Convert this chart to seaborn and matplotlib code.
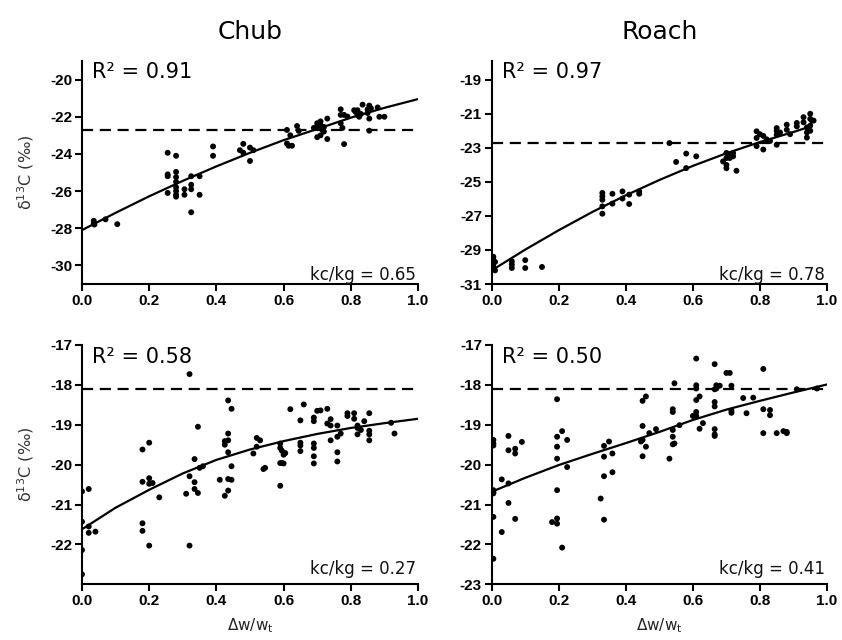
import numpy as np
import pandas as pd
import matplotlib
matplotlib.use("Agg")
import matplotlib.pyplot as plt
import seaborn as sns

# ---------------- data ----------------
species = ["Chub", "Roach"]
r2_labels = ["0.91", "0.97", "0.58", "0.50"]
kc_labels = ["0.65", "0.78", "0.27", "0.41"]
baselines = [-22.7, -22.7, -18.1, -18.1]

# top-left (Chub, upper)
tl_x = [0.035, 0.035, 0.037, 0.07, 0.105,
        0.255, 0.255, 0.255, 0.255,
        0.28, 0.28, 0.28, 0.28, 0.28, 0.28, 0.28, 0.28,
        0.305, 0.305, 0.325, 0.325, 0.325, 0.325, 0.35, 0.35,
        0.39, 0.39, 0.47, 0.48, 0.48, 0.50, 0.50, 0.51,
        0.61, 0.61, 0.615, 0.62, 0.625, 0.64, 0.645,
        0.69, 0.70, 0.70, 0.705, 0.71, 0.71, 0.715, 0.72, 0.72, 0.70, 0.71, 0.73, 0.73,
        0.77, 0.77, 0.77, 0.775, 0.78, 0.78, 0.79,
        0.81, 0.815, 0.82, 0.82, 0.825, 0.83, 0.835,
        0.85, 0.85, 0.855, 0.855, 0.855, 0.86, 0.88, 0.885, 0.90]
tl_y = [-27.6, -27.72, -27.8, -27.52, -27.78,
        -23.94, -25.1, -25.2, -26.1,
        -24.1, -24.97, -25.25, -25.5, -25.8, -26.0, -26.2, -26.3,
        -25.9, -26.2, -25.2, -25.66, -25.9, -27.14, -25.2, -26.2,
        -23.6, -24.1, -23.8, -23.46, -23.94, -23.66, -24.38, -23.8,
        -22.71, -23.44, -23.56, -23.0, -23.56, -22.5, -22.76,
        -22.6, -22.35, -22.5, -22.6, -22.25, -22.45, -22.7, -22.55, -22.8, -23.1, -23.0, -22.1, -23.2,
        -21.6, -21.9, -22.35, -22.6, -21.9, -23.47, -21.99,
        -21.65, -21.75, -21.65, -21.9, -22.0, -21.85, -21.35,
        -21.6, -21.8, -21.4, -22.1, -22.75, -21.55, -21.5, -22.0, -22.0]
tl_fit_x = [0.0, 0.1, 0.2, 0.3, 0.4, 0.5, 0.6, 0.7, 0.8, 0.9, 1.0]
tl_fit_y = [-28.1, -27.17, -26.28, -25.45, -24.67, -23.94, -23.26, -22.66, -22.05, -21.52, -21.05]

# top-right (Roach, upper)
tr_x = [0.005, 0.005, 0.005, 0.005, 0.01, 0.01,
        0.06, 0.06, 0.06, 0.10, 0.10, 0.15,
        0.33, 0.33, 0.33, 0.33, 0.33, 0.36, 0.36, 0.39, 0.39, 0.41, 0.41, 0.44, 0.44,
        0.53, 0.55, 0.58, 0.58, 0.61,
        0.69, 0.70, 0.70, 0.70, 0.70, 0.71, 0.71, 0.72, 0.72, 0.73,
        0.79, 0.79, 0.79, 0.80, 0.81, 0.81, 0.82, 0.83,
        0.85, 0.85, 0.85, 0.85, 0.86, 0.88, 0.88, 0.89, 0.91, 0.91,
        0.93, 0.93, 0.94, 0.94, 0.94, 0.95, 0.95, 0.955, 0.95, 0.95, 0.96]
tr_y = [-29.4, -29.6, -29.8, -30.0, -30.2, -29.7,
        -29.67, -29.86, -30.06, -29.6, -30.06, -30.0,
        -25.65, -25.85, -26.05, -26.44, -26.87, -25.7, -26.28, -25.56, -25.98, -25.75, -26.3, -25.56, -25.7,
        -22.72, -23.83, -23.34, -24.19, -23.5,
        -23.8, -23.3, -23.6, -24.0, -24.2, -23.4, -23.6, -23.5, -23.3, -24.35,
        -22.03, -22.42, -22.9, -22.2, -22.3, -23.1, -22.5, -22.6,
        -21.84, -22.23, -22.82, -22.0, -22.1, -21.64, -21.94, -22.2, -21.54, -21.74,
        -21.2, -21.5, -21.8, -22.1, -22.4, -21.0, -21.3, -21.4, -21.7, -22.0, -21.4]
tr_fit_x = [0.0, 0.1, 0.2, 0.3, 0.4, 0.5, 0.6, 0.7, 0.8, 0.9, 0.95]
tr_fit_y = [-30.2, -28.98, -27.84, -26.77, -25.79, -24.89, -24.06, -23.32, -22.66, -22.07, -21.75]

# bottom-left (Chub, lower)
bl_x = [0.0, 0.0, 0.0, 0.0, 0.02, 0.02, 0.02, 0.04,
        0.18, 0.18, 0.18, 0.18, 0.20, 0.20, 0.20, 0.20, 0.21, 0.23,
        0.31, 0.32, 0.32, 0.32, 0.335, 0.335, 0.335, 0.345, 0.345, 0.35, 0.36,
        0.41, 0.425, 0.425, 0.425, 0.435, 0.435, 0.435, 0.435, 0.435, 0.435, 0.445, 0.445, 0.445,
        0.51, 0.52, 0.52, 0.53, 0.54, 0.545,
        0.59, 0.59, 0.59, 0.59, 0.595, 0.595, 0.60, 0.60, 0.605, 0.62,
        0.65, 0.65, 0.65, 0.65, 0.66,
        0.69, 0.69, 0.69, 0.69, 0.69, 0.69, 0.70, 0.71, 0.73, 0.73, 0.74, 0.74, 0.74,
        0.76, 0.76, 0.76, 0.76, 0.77, 0.79, 0.79, 0.81, 0.81, 0.82, 0.82, 0.82, 0.83, 0.84,
        0.855, 0.855, 0.855, 0.855, 0.92, 0.93]
bl_y = [-20.67, -21.43, -22.14, -22.75, -20.61, -21.55, -21.71, -21.68,
        -19.62, -20.43, -21.47, -21.66, -19.45, -20.34, -20.48, -22.03, -20.46, -20.82,
        -20.73, -17.73, -20.29, -22.03, -19.86, -20.44, -20.61, -19.05, -20.71, -20.08, -20.04,
        -20.38, -19.41, -19.5, -20.78, -18.39, -19.22, -19.39, -19.69, -20.36, -20.65, -18.6, -20.04, -20.38,
        -19.72, -19.33, -19.55, -19.39, -20.11, -20.08,
        -19.47, -19.58, -19.96, -20.53, -19.65, -19.96, -19.75, -19.97, -19.71, -18.61,
        -18.89, -19.45, -19.52, -19.66, -18.49,
        -18.82, -18.91, -19.47, -19.58, -19.79, -19.97, -18.65, -18.64, -18.6, -18.97, -19.02, -19.39, -18.86,
        -19.02, -19.3, -19.69, -19.92, -19.22, -18.71, -18.78, -18.71, -18.85, -19.02, -19.08, -19.24, -19.13, -18.91,
        -18.71, -19.15, -19.24, -19.39, -18.95, -19.22]
bl_fit_x = [0.0, 0.1, 0.2, 0.3, 0.4, 0.5, 0.6, 0.7, 0.8, 0.9, 1.0]
bl_fit_y = [-21.62, -21.08, -20.63, -20.22, -19.88, -19.62, -19.41, -19.23, -19.08, -18.96, -18.85]

# bottom-right (Roach, lower)
br_x = [0.005, 0.005, 0.005, 0.005, 0.005, 0.005, 0.005, 0.005,
        0.03, 0.03, 0.05, 0.05, 0.05, 0.05, 0.07, 0.07, 0.07, 0.09,
        0.18, 0.195, 0.195, 0.195, 0.195, 0.195, 0.195, 0.195, 0.21, 0.21, 0.225, 0.225,
        0.325, 0.335, 0.335, 0.335, 0.335, 0.35, 0.36, 0.36,
        0.445, 0.45, 0.45, 0.45, 0.45, 0.46, 0.46, 0.47, 0.49,
        0.53, 0.54, 0.54, 0.54, 0.54, 0.54, 0.545, 0.545, 0.56,
        0.60, 0.61, 0.61, 0.61, 0.61, 0.61, 0.61, 0.62, 0.62, 0.63,
        0.665, 0.665, 0.665, 0.665, 0.665, 0.665, 0.665, 0.67, 0.67, 0.68,
        0.70, 0.71, 0.715, 0.715, 0.715, 0.75, 0.76, 0.78,
        0.81, 0.81, 0.81, 0.83, 0.83, 0.85, 0.87, 0.88, 0.88, 0.91, 0.97]
br_y = [-19.38, -19.47, -19.52, -20.64, -20.69, -20.72, -21.31, -22.36,
        -20.37, -21.69, -19.28, -19.64, -20.47, -20.96, -19.6, -19.72, -21.36, -19.43,
        -21.44, -18.36, -19.3, -19.55, -19.85, -20.64, -21.35, -21.48, -19.16, -22.08, -19.38, -20.06,
        -20.85, -19.53, -19.8, -20.29, -21.38, -19.42, -19.72, -20.19,
        -19.42, -18.4, -19.03, -19.38, -19.79, -18.29, -19.55, -19.21, -19.11,
        -19.85, -18.61, -18.68, -19.13, -19.3, -19.49, -17.96, -19.47, -19.01,
        -18.78, -17.34, -18.01, -18.09, -18.38, -18.68, -18.78, -18.29, -19.1, -18.96,
        -17.48, -18.11, -18.43, -18.54, -19.11, -19.24, -19.28, -18.01, -18.09, -18.02,
        -17.7, -17.7, -18.02, -18.65, -18.7, -18.33, -18.71, -18.32,
        -17.6, -18.61, -19.21, -18.63, -18.76, -19.21, -19.16, -19.18, -19.21, -18.11, -18.09]
br_fit_x = [0.0, 0.1, 0.2, 0.3, 0.4, 0.5, 0.6, 0.7, 0.8, 0.9, 1.0]
br_fit_y = [-20.68, -20.33, -20.01, -19.73, -19.46, -19.18, -18.88, -18.62, -18.4, -18.19, -17.99]

panels = [
    (tl_x, tl_y, tl_fit_x, tl_fit_y, (-31, -19), np.arange(-30, -19, 2), "Chub", True, False),
    (tr_x, tr_y, tr_fit_x, tr_fit_y, (-31, -17.9), np.arange(-31, -18, 2), "Roach", False, False),
    (bl_x, bl_y, bl_fit_x, bl_fit_y, (-23, -17), np.arange(-22, -16, 1), None, True, True),
    (br_x, br_y, br_fit_x, br_fit_y, (-23, -17), np.arange(-23, -16, 1), None, False, True),
]

# ---------------- figure ----------------
sns.set_style("ticks")
plt.rcParams["font.family"] = ["DejaVu Sans"]
plt.rcParams["axes.linewidth"] = 1.5
plt.rcParams["text.color"] = "black"
plt.rcParams["axes.labelcolor"] = "black"
plt.rcParams["xtick.color"] = "black"
plt.rcParams["ytick.color"] = "black"
plt.rcParams["axes.edgecolor"] = "black"

fig = plt.figure(figsize=(8.42, 6.4), dpi=100)
rects = [
    [82 / 842, 1 - 284 / 640, 336 / 842, 223 / 640],
    [491.7 / 842, 1 - 284 / 640, 335.3 / 842, 223 / 640],
    [82 / 842, 1 - 584.3 / 640, 336 / 842, 239.3 / 640],
    [491.7 / 842, 1 - 584.3 / 640, 335.3 / 842, 239.3 / 640],
]

for i, (px, py, fx, fy, ylim, yticks, title, ylab, xlab) in enumerate(panels):
    ax = fig.add_axes(rects[i])
    pts = pd.DataFrame({"x": px, "y": py})
    fit = pd.DataFrame({"x": fx, "y": fy})
    sns.scatterplot(data=pts, x="x", y="y", ax=ax, color="black", s=18,
                    edgecolor="none", linewidth=0, zorder=3)
    sns.lineplot(data=fit, x="x", y="y", ax=ax, color="black", lw=1.6,
                 estimator=None, sort=False, zorder=4)
    ax.axhline(baselines[i], xmin=0, xmax=1, color="black", lw=1.6,
               dashes=(5, 3), zorder=2)
    ax.set_xlim(0, 1.0)
    ax.set_ylim(*ylim)
    ax.set_xticks([0.0, 0.2, 0.4, 0.6, 0.8, 1.0])
    ax.set_xticklabels(["0.0", "0.2", "0.4", "0.6", "0.8", "1.0"])
    ax.set_yticks(yticks)
    ax.set_yticklabels([f"{v:d}" for v in yticks])
    for lab in ax.get_xticklabels() + ax.get_yticklabels():
        lab.set_fontfamily("Liberation Sans")
        lab.set_fontweight("bold")
        lab.set_fontsize(11)
        lab.set_color("black")
    ax.tick_params(direction="out", length=5, width=1.5, pad=2, colors="black")
    sns.despine(ax=ax)
    ax.spines["left"].set_linewidth(1.5)
    ax.spines["bottom"].set_linewidth(1.5)
    if ylab:
        ax.set_ylabel("δ$^{13}$C (‰)", fontsize=11.5, color="#333333", labelpad=10)
    else:
        ax.set_ylabel("")
    if xlab:
        ax.set_xlabel("Δw/w$_{\\rm t}$", fontsize=11, color="#222222", labelpad=6)
    else:
        ax.set_xlabel("")
    if title:
        ax.set_title(title, fontsize=18, pad=16, color="black")
    ax.text(0.03, 0.95, f"R² = {r2_labels[i]}", transform=ax.transAxes,
            fontsize=15, ha="left", va="center", color="black")
    ky = 0.04 if i < 2 else 0.065
    ax.text(0.995, ky, f"kc/kg = {kc_labels[i]}", transform=ax.transAxes,
            fontsize=12, ha="right", va="center", color="#111111")

fig.savefig("out.png", dpi=100, facecolor="white")
